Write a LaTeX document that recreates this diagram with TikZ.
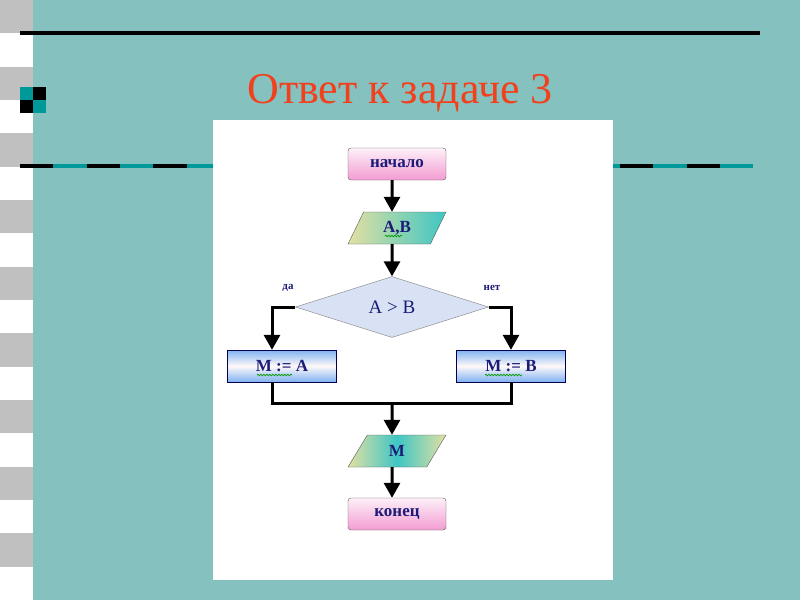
\documentclass[tikz,border=0pt]{standalone}
\usepackage{fontspec}
\setmainfont{Liberation Serif}
\usetikzlibrary{arrows.meta,shapes.geometric,decorations.pathmorphing}
\definecolor{bgteal}{HTML}{84C1BF}
\definecolor{darkteal}{HTML}{009999}
\definecolor{titlered}{HTML}{F2401C}
\definecolor{inkblue}{HTML}{1C1C78}
\definecolor{stripgray}{HTML}{C0C0C0}
\definecolor{boxblue}{HTML}{7FB2F2}
\definecolor{boxpink}{HTML}{F39CD2}
\definecolor{condfill}{HTML}{D8E2F4}
\definecolor{ioyellow}{HTML}{E2E0A2}
\definecolor{ioteal}{HTML}{3EC6C4}

\begin{document}
\begin{tikzpicture}[x=1pt,y=-1pt, % pixel grid, y down
    txt/.style={font=\bfseries\fontsize{17}{19}\selectfont, text=inkblue},
    term/.style={txt, draw=black!65, rounded corners=3pt, minimum width=98, minimum height=32,
      top color=white!85!boxpink, bottom color=boxpink},
    io/.style={txt, draw=black!65, trapezium, trapezium left angle=65, trapezium right angle=115,
      trapezium stretches=true, minimum width=98, minimum height=32, inner sep=0pt},
    act/.style={txt, draw=black!70!blue, minimum width=109, minimum height=32,
      top color=boxblue, bottom color=boxblue, middle color=white!90!pink},
    flow/.style={line width=3pt, -{Triangle[length=15pt,width=16pt]}},
    wire/.style={line width=3pt},
    squiggle/.style={green!60!black, line width=0.7pt, decorate,
      decoration={snake, segment length=3pt, amplitude=0.8pt}}
  ]
  \useasboundingbox (0,0) rectangle (800,600);
  \fill[bgteal] (0,0) rectangle (800,600);
  % left strip
  \foreach \i in {0,...,17}{
    \pgfmathsetmacro{\shade}{mod(\i,2)==0 ? 1 : 0}
    \ifdim\shade pt>0.5pt
      \fill[stripgray] (0,\i*33.333) rectangle (33,\i*33.333+33.333);
    \else
      \fill[white] (0,\i*33.333) rectangle (33,\i*33.333+33.333);
    \fi
  }
  % rules
  \draw[line width=4pt] (20,33) -- (760,33);
  \draw[line width=4pt, darkteal] (20,166) -- (753,166);
  \draw[line width=4pt, dash pattern=on 33.333pt off 33.333pt] (20,166) -- (753,166);
  % bullet
  \fill[darkteal] (20,87) rectangle (33,100);
  \fill[black] (33,87) rectangle (46,100);
  \fill[black] (20,100) rectangle (33,113);
  \fill[darkteal] (33,100) rectangle (46,113);
  \node[anchor=base, text=titlered, font=\fontsize{44}{48}\selectfont] (title) at (400,103) {Ответ к задаче 3};
  % panel
  \fill[white] (213,120) rectangle (613,580);

  \node[term] (start) at (397,164) {начало};
  \node[io, left color=ioyellow, right color=ioteal] (ab) at (397,228) {A,B\hspace{8pt}};
  \node[txt, diamond, aspect=3.2, draw=black!50, fill=condfill, minimum width=193, minimum height=61,
    inner sep=0pt, font=\fontsize{19}{21}\selectfont] (cond) at (392,307) {A > B};
  \node[txt, font=\bfseries\fontsize{11}{13}\selectfont] (yes) at (288,288) {да};
  \node[txt, font=\bfseries\fontsize{11}{13}\selectfont] (no) at (492,288) {нет};
  \node[act] (ma) at (282,366) {M := A};
  \node[act] (mb) at (511,366) {M := B};
  \coordinate (join) at (392,403);
  \node[io, left color=ioyellow, right color=ioyellow, middle color=ioteal] (out) at (397,451) {M};
  \node[term] (stop) at (397,514) {конец};

  \draw[flow] ([xshift=-5pt]start.south) -- ([xshift=-5pt]ab.north);
  \draw[flow] ([xshift=-5pt]ab.south) -- (cond.north);
  \draw[flow] (cond.west) -| ([xshift=-10pt]ma.north);
  \draw[flow] (cond.east) -| (mb.north);
  \draw[wire] ([xshift=-10pt]ma.south) |- (join) -| (mb.south);
  \draw[flow] (join) -- ([xshift=-5pt]out.north);
  \draw[flow] ([xshift=-5pt]out.south) -- ([xshift=-5pt]stop.north);

  % spell-check marks
  \draw[squiggle] (385,236) -- (402,236);
  \draw[squiggle] (257,375) -- (292,375);
  \draw[squiggle] (485,375) -- (522,375);
\end{tikzpicture}
\end{document}
